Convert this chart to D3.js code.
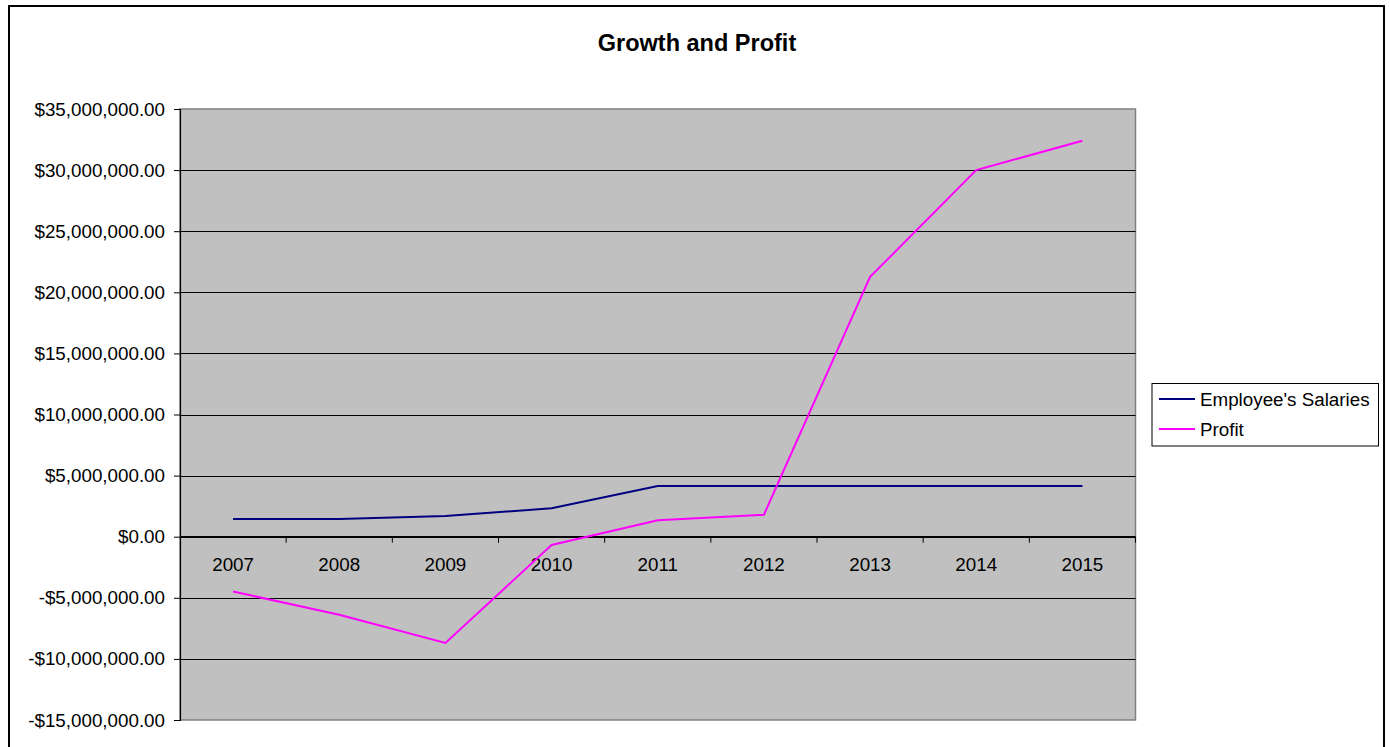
<!DOCTYPE html>
<html>
<head>
<meta charset="utf-8">
<script src="https://cdn.jsdelivr.net/npm/d3@7"></script>
<style>
  body { margin: 0; background: #fff; }
  text { font-family: Arial, "Liberation Sans", sans-serif; }
</style>
</head>
<body>
<svg width="1390" height="747"></svg>
<script>
// data
const years = ["2007", "2008", "2009", "2010", "2011", "2012", "2013", "2014", "2015"];
const salaries = [1440000, 1440000, 1690000, 2320000, 4140000, 4140000, 4140000, 4140000, 4140000];
const profit = [-4490000, -6390000, -8700000, -680000, 1350000, 1800000, 21260000, 30000000, 32400000];
const yTicks = [-15000000, -10000000, -5000000, 0, 5000000, 10000000, 15000000, 20000000, 25000000, 30000000, 35000000];
const seriesNames = ["Employee's Salaries", "Profit"];
const seriesColors = ["#000080", "#ff00ff"];

const svg = d3.select("svg");

// outer chart border
svg.append("rect")
  .attr("x", 9).attr("y", 6)
  .attr("width", 1375).attr("height", 760)
  .attr("fill", "#fff")
  .attr("stroke", "#000")
  .attr("stroke-width", 2);

const plotLeft = 180, plotRight = 1135.5, plotTop = 109, plotBottom = 720;

const x = d3.scaleBand().domain(years).range([plotLeft, plotRight]).padding(0);
const y = d3.scaleLinear().domain([-15000000, 35000000]).range([plotBottom, plotTop]);

// plot area
svg.append("rect")
  .attr("x", plotLeft).attr("y", plotTop)
  .attr("width", plotRight - plotLeft).attr("height", plotBottom - plotTop)
  .attr("fill", "#c0c0c0")
  .attr("stroke", "#808080")
  .attr("stroke-width", 1.5);

// gridlines
svg.append("g")
  .selectAll("line")
  .data(yTicks.filter(d => d > -15000000 && d < 35000000))
  .enter()
  .append("line")
  .attr("x1", plotLeft).attr("x2", plotRight)
  .attr("y1", d => Math.round(y(d)) + 0.5)
  .attr("y2", d => Math.round(y(d)) + 0.5)
  .attr("stroke", "#000")
  .attr("stroke-width", 1);

// y axis
const fmt = d => (d < 0 ? "-$" : "$") + d3.format(",.2f")(Math.abs(d));
const yAxis = svg.append("g")
  .attr("transform", `translate(${plotLeft},0)`)
  .call(d3.axisLeft(y).tickValues(yTicks).tickFormat(fmt).tickSize(6).tickPadding(9));
yAxis.select(".domain").attr("stroke", "#000").attr("stroke-width", 1.2);
yAxis.selectAll(".tick line").attr("stroke", "#000");
yAxis.selectAll("text")
  .attr("font-size", "18.8px")
  .attr("fill", "#000")
  .style("font-family", "Arial, 'Liberation Sans', sans-serif");

// x axis at zero, ticks at category boundaries
const zeroY = y(0);
const xAxis = svg.append("g")
  .attr("transform", `translate(0,${zeroY})`);
xAxis.append("line")
  .attr("x1", plotLeft).attr("x2", plotRight)
  .attr("stroke", "#000").attr("stroke-width", 1.2);
xAxis.selectAll(".tk")
  .data(years)
  .enter()
  .append("line")
  .attr("class", "tk")
  .attr("x1", d => x(d) + x.bandwidth())
  .attr("x2", d => x(d) + x.bandwidth())
  .attr("y1", 0).attr("y2", 6)
  .attr("stroke", "#000");
xAxis.selectAll("text")
  .data(years)
  .enter()
  .append("text")
  .attr("x", d => x(d) + x.bandwidth() / 2)
  .attr("y", 28)
  .attr("dy", "0.35em")
  .attr("text-anchor", "middle")
  .attr("font-size", "18.8px")
  .text(d => d);

// lines
const line = d3.line()
  .x((d, i) => x(years[i]) + x.bandwidth() / 2)
  .y(d => y(d));

[salaries, profit].forEach((s, i) => {
  svg.append("path")
    .datum(s)
    .attr("d", line)
    .attr("fill", "none")
    .attr("stroke", seriesColors[i])
    .attr("stroke-width", 2);
});

// title
svg.append("text")
  .attr("x", 697).attr("y", 43)
  .attr("dy", "0.35em")
  .attr("text-anchor", "middle")
  .attr("font-size", "23.5px")
  .attr("font-weight", "bold")
  .text("Growth and Profit");

// legend
const legend = svg.append("g");
legend.append("rect")
  .attr("x", 1152).attr("y", 383.5)
  .attr("width", 226.5).attr("height", 62.5)
  .attr("fill", "#fff")
  .attr("stroke", "#000")
  .attr("stroke-width", 1);
seriesNames.forEach((name, i) => {
  const ly = 399 + i * 30;
  legend.append("line")
    .attr("x1", 1159).attr("x2", 1195)
    .attr("y1", ly).attr("y2", ly)
    .attr("stroke", seriesColors[i])
    .attr("stroke-width", 2);
  legend.append("text")
    .attr("x", 1200).attr("y", ly)
    .attr("dy", "0.35em")
    .attr("font-size", "18.8px")
    .text(name);
});
</script>
</body>
</html>
